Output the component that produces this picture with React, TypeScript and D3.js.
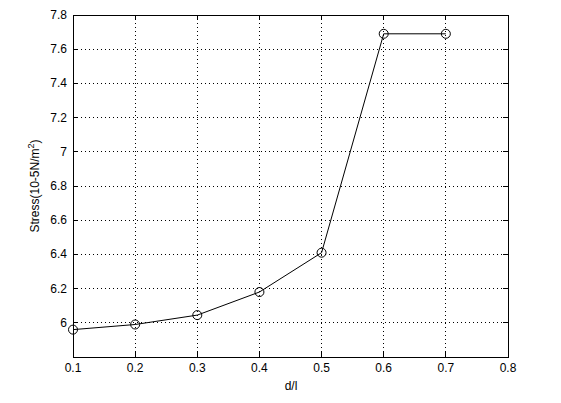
import React from "react";
import * as d3 from "d3";

const xValues = [0.1, 0.2, 0.3, 0.4, 0.5, 0.6, 0.7];
const stressValues = [5.96, 5.99, 6.045, 6.18, 6.41, 7.69, 7.69];
const xTicks = [0.1, 0.2, 0.3, 0.4, 0.5, 0.6, 0.7, 0.8];
const yTicks = [6, 6.2, 6.4, 6.6, 6.8, 7, 7.2, 7.4, 7.6, 7.8];

const W = 561, H = 403;
const L = 73, R = 508, T = 15, B = 357;

export default function App() {
  const x = d3.scaleLinear().domain([0.1, 0.8]).range([L, R]);
  const y = d3.scaleLinear().domain([5.8, 7.8]).range([B, T]);
  const line = d3.line<number>().x((_, i) => x(xValues[i])).y((d) => y(d));
  const font = "'Liberation Sans', Arial, sans-serif";
  const tl = 5;
  return (
    <svg width={W} height={H} style={{ position: "absolute", left: 0, top: 0, background: "#fff" }}>
      <rect x={0} y={0} width={W} height={H} fill="#fff" />
      {/* grid */}
      {xTicks.slice(1, -1).map((t) => (
        <line key={"gx" + t} x1={x(t)} x2={x(t)} y1={T} y2={B} stroke="#000" strokeWidth={1} strokeDasharray="1,3" shapeRendering="crispEdges" />
      ))}
      {yTicks.slice(0, -1).map((t) => (
        <line key={"gy" + t} x1={L} x2={R} y1={y(t)} y2={y(t)} stroke="#000" strokeWidth={1} strokeDasharray="1,3" shapeRendering="crispEdges" />
      ))}
      {/* ticks */}
      {xTicks.map((t) => (
        <g key={"tx" + t}>
          <line x1={x(t)} x2={x(t)} y1={B} y2={B - tl} stroke="#000" shapeRendering="crispEdges" />
          <line x1={x(t)} x2={x(t)} y1={T} y2={T + tl} stroke="#000" shapeRendering="crispEdges" />
          <text x={x(t)} y={372} textAnchor="middle" fontFamily={font} fontSize={12} fill="#000">{t}</text>
        </g>
      ))}
      {yTicks.map((t) => (
        <g key={"ty" + t}>
          <line x1={L} x2={L + tl} y1={y(t)} y2={y(t)} stroke="#000" shapeRendering="crispEdges" />
          <line x1={R} x2={R - tl} y1={y(t)} y2={y(t)} stroke="#000" shapeRendering="crispEdges" />
          <text x={67} y={y(t) + 4} textAnchor="end" fontFamily={font} fontSize={12} fill="#000">{t}</text>
        </g>
      ))}
      <rect x={L} y={T} width={R - L} height={B - T} fill="none" stroke="#000" strokeWidth={1} shapeRendering="crispEdges" />
      {/* data */}
      <path d={line(stressValues) || ""} fill="none" stroke="#000" strokeWidth={1} />
      {stressValues.map((v, i) => (
        <circle key={"p" + i} cx={x(xValues[i])} cy={y(v)} r={4.5} fill="none" stroke="#000" strokeWidth={1} />
      ))}
      {/* labels */}
      <text x={291} y={390} textAnchor="middle" fontFamily={font} fontSize={12} fill="#000">d/l</text>
      <text transform={`translate(39,${(T + B) / 2}) rotate(-90)`} textAnchor="middle" fontFamily={font} fontSize={12} fill="#000">
        Stress(10-5N/m<tspan dy={-5} fontSize={9}>2</tspan><tspan dy={5}>)</tspan>
      </text>
    </svg>
  );
}
